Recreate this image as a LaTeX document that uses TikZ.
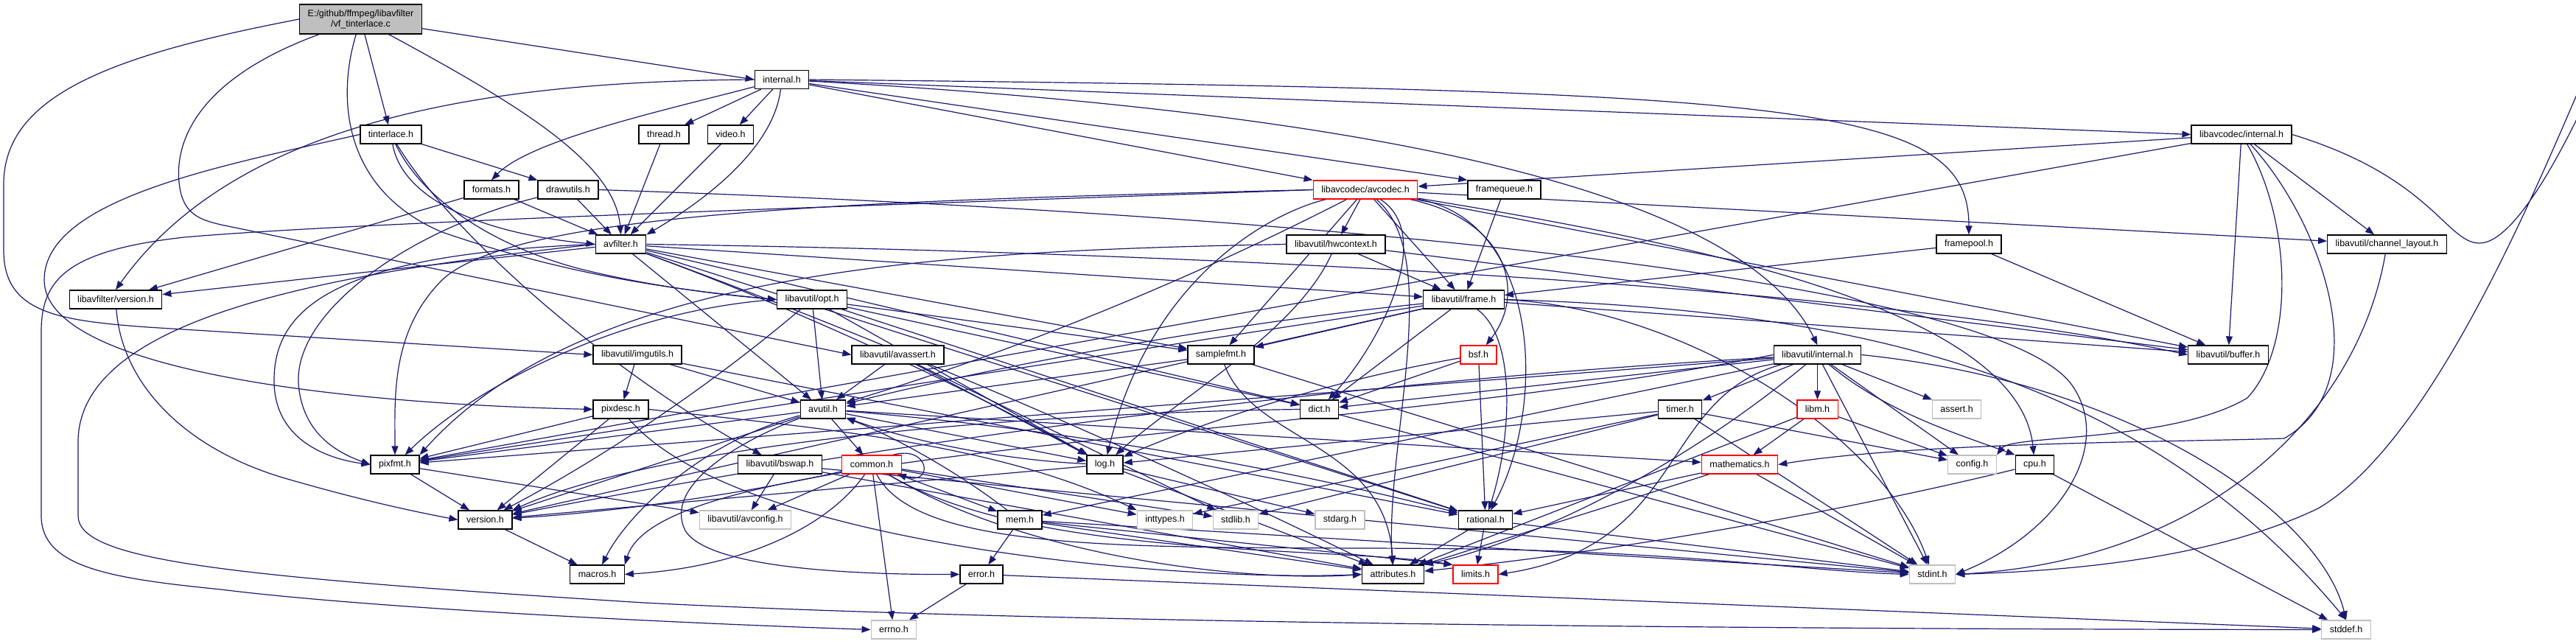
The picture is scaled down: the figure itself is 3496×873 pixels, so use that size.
\documentclass[tikz,border=0pt]{standalone}
\usepackage{fontspec}
\setmainfont{Liberation Sans}
\usetikzlibrary{arrows.meta}
\definecolor{edgeblue}{HTML}{191970}
\definecolor{sysgray}{HTML}{BFBFBF}
\pgfdeclarelayer{edges}
\pgfsetlayers{edges,main}
\tikzset{
  hdr/.style={draw=black, fill=white, line width=1.3pt, minimum height=25pt,
    inner xsep=11pt, inner ysep=0pt, font=\fontsize{12.5}{14}\selectfont},
  syshdr/.style={hdr, draw=sysgray},
  cuthdr/.style={hdr, draw=red},
  srcfile/.style={hdr, fill=sysgray, minimum height=40pt, align=center},
  dep/.style={draw=edgeblue, line width=1.2pt, -{Triangle[length=12pt,width=9pt]}}
}

\begin{document}
\begin{tikzpicture}[x=1pt,y=-1pt]
\useasboundingbox (0,0) rectangle (3496,873);

\node[srcfile] (root) at (489.5,26) {E:/github/ffmpeg/libavfilter\\/vf\_tinterlace.c};
\node[hdr] (lavfinternal) at (1061,108) {internal.h};
\node[hdr] (tinterlace) at (530.5,182.5) {tinterlace.h};
\node[hdr] (thread) at (901,182.5) {thread.h};
\node[hdr] (video) at (991.5,182.5) {video.h};
\node[hdr] (lavcinternal) at (3042,182.5) {libavcodec/internal.h};
\node[hdr] (formats) at (667,257.5) {formats.h};
\node[hdr] (drawutils) at (771,257.5) {drawutils.h};
\node[cuthdr] (avcodec) at (1853,257.5) {libavcodec/avcodec.h};
\node[hdr] (framequeue) at (2041.5,257.5) {framequeue.h};
\node[hdr] (avfilter) at (842.5,331.5) {avfilter.h};
\node[hdr] (hwcontext) at (1813,331.5) {libavutil/hwcontext.h};
\node[hdr] (framepool) at (2672,331.5) {framepool.h};
\node[hdr] (chlayout) at (3239.5,331.5) {libavutil/channel\_layout.h};
\node[hdr] (lavfversion) at (157,406.5) {libavfilter/version.h};
\node[hdr] (opt) at (1102,406.5) {libavutil/opt.h};
\node[hdr] (frame) at (1986.5,406.5) {libavutil/frame.h};
\node[hdr] (imgutils) at (865,481.5) {libavutil/imgutils.h};
\node[hdr] (avassert) at (1218.5,481.5) {libavutil/avassert.h};
\node[hdr] (samplefmt) at (1657,481.5) {samplefmt.h};
\node[cuthdr] (bsf) at (2006.5,481.5) {bsf.h};
\node[hdr] (lavuinternal) at (2466.5,481.5) {libavutil/internal.h};
\node[hdr] (buffer) at (3024,481.5) {libavutil/buffer.h};
\node[hdr] (pixdesc) at (842.5,555.5) {pixdesc.h};
\node[hdr] (avutil) at (1117,555.5) {avutil.h};
\node[hdr] (dict) at (1790.5,555.5) {dict.h};
\node[hdr] (timer) at (2280,555.5) {timer.h};
\node[cuthdr] (libm) at (2466.5,555.5) {libm.h};
\node[syshdr] (assertH) at (2655.5,555.5) {assert.h};
\node[hdr] (pixfmt) at (536,630.5) {pixfmt.h};
\node[hdr] (bswap) at (1058.5,630.5) {libavutil/bswap.h};
\node[cuthdr] (common) at (1183,630.5) {common.h};
\node[hdr] (log) at (1499.5,630.5) {log.h};
\node[cuthdr] (mathematics) at (2361,630.5) {mathematics.h};
\node[syshdr] (config) at (2676.5,630.5) {config.h};
\node[hdr] (cpu) at (2761.5,630.5) {cpu.h};
\node[hdr] (version) at (658.5,705.5) {version.h};
\node[syshdr] (avconfig) at (1011.5,705.5) {libavutil/avconfig.h};
\node[hdr] (mem) at (1384,705.5) {mem.h};
\node[syshdr] (inttypes) at (1581,705.5) {inttypes.h};
\node[syshdr] (stdlib) at (1677,705.5) {stdlib.h};
\node[syshdr] (stdarg) at (1818.5,705.5) {stdarg.h};
\node[hdr] (rational) at (2016,705.5) {rational.h};
\node[hdr] (macros) at (810.5,779.5) {macros.h};
\node[hdr] (error) at (1332,779.5) {error.h};
\node[hdr] (attributes) at (1890.5,779.5) {attributes.h};
\node[cuthdr] (limits) at (2002.5,779.5) {limits.h};
\node[syshdr] (stdint) at (2622.5,779.5) {stdint.h};
\node[syshdr] (errno) at (1213,854.5) {errno.h};
\node[syshdr] (stddef) at (3184,854.5) {stddef.h};

\begin{pgfonlayer}{edges}
% vf_tinterlace.c
\draw[dep] (root.west) .. controls (150,75) and (5,130) .. (5,250) -- (5,340) .. controls (5,425) and (80,435) .. (200,444) -- (imgutils.west);
\draw[dep] (root) .. controls (260,110) and (235,200) .. (244,255) .. controls (250,290) and (270,298) .. (300,305) -- (avassert.west);
\draw[dep] (root) .. controls (455,140) and (470,260) .. (600,315) .. controls (760,370) and (900,392) .. (opt.west);
\draw[dep] (root) -- (tinterlace);
\draw[dep] (root) .. controls (700,140) and (835,220) .. (avfilter.north);
\draw[dep] (root) -- (lavfinternal.west);
% tinterlace.h
\draw[dep] (tinterlace.west) .. controls (300,225) and (60,270) .. (60,380) .. controls (60,500) and (450,548) .. (pixdesc.west);
\draw[dep] (tinterlace) -- (drawutils);
\draw[dep] (tinterlace) .. controls (545,265) and (640,315) .. (avfilter.west);
\draw[dep] (tinterlace) .. controls (580,285) and (700,345) .. (800,368) .. controls (900,392) and (1000,402) .. (opt.west);
\draw[dep] (tinterlace) .. controls (620,330) and (850,520) .. (bswap);
% internal.h
\draw[dep] (lavfinternal.west) .. controls (700,110) and (330,150) .. (lavfversion.north);
\draw[dep] (lavfinternal) .. controls (900,150) and (720,190) .. (formats.north);
\draw[dep] (lavfinternal) -- (thread);
\draw[dep] (lavfinternal) -- (video);
\draw[dep] (lavfinternal) .. controls (1050,200) and (960,270) .. (avfilter.north east);
\draw[dep] (lavfinternal) -- (lavcinternal.west);
\draw[dep] (lavfinternal.east) .. controls (2450,122) and (2672,140) .. (framepool.north);
\draw[dep] (lavfinternal) -- (framequeue.north west);
\draw[dep] (lavfinternal) -- (avcodec.north west);
\draw[dep] (lavfinternal) .. controls (2000,160) and (2380,290) .. (lavuinternal.north);
% thread.h, video.h, formats.h, drawutils.h
\draw[dep] (thread) -- (avfilter);
\draw[dep] (video) -- (avfilter);
\draw[dep] (formats) -- (lavfversion);
\draw[dep] (formats) -- (avfilter);
\draw[dep] (drawutils) -- (avfilter);
\draw[dep] (drawutils) .. controls (560,310) and (400,420) .. (405,520) .. controls (410,590) and (460,615) .. (pixfmt.west);
\draw[dep] (drawutils.east) .. controls (1800,290) and (2700,380) .. (2810,520) .. controls (2870,600) and (2800,720) .. (stdint.east);
% avfilter.h
\draw[dep] (avfilter) -- (lavfversion);
\draw[dep] (avfilter.west) .. controls (450,345) and (370,420) .. (372,520) .. controls (374,595) and (440,622) .. (pixfmt.west);
\draw[dep] (avfilter) -- (avutil);
\draw[dep] (avfilter) -- (frame);
\draw[dep] (avfilter.east) .. controls (1500,340) and (2500,380) .. (buffer.west);
\draw[dep] (avfilter) -- (dict);
\draw[dep] (avfilter) .. controls (1070,415) and (1290,515) .. (log);
\draw[dep] (avfilter) -- (samplefmt);
\draw[dep] (avfilter) -- (rational);
\draw[dep] (avfilter) .. controls (1199,462) and (1549,612) .. (attributes);
\draw[dep] (avfilter.west) .. controls (450,370) and (106,430) .. (106,600) -- (106,700) .. controls (106,760) and (300,782) .. (874,818) .. controls (1500,850) and (2600,854) .. (stddef.west);
% libavfilter/version.h
\draw[dep] (lavfversion) .. controls (165,520) and (250,610) .. (390,650) .. controls (480,676) and (550,692) .. (version.west);
% opt.h
\draw[dep] (opt) -- (avutil);
\draw[dep] (opt) -- (rational);
\draw[dep] (opt) -- (dict);
\draw[dep] (opt) -- (log);
\draw[dep] (opt.west) .. controls (850,420) and (650,520) .. (pixfmt);
\draw[dep] (opt) -- (samplefmt);
\draw[dep] (opt) .. controls (965,523) and (817,622) .. (version);
% imgutils.h, avassert.h, pixdesc.h, bswap.h
\draw[dep] (imgutils) -- (avutil);
\draw[dep] (imgutils) -- (pixdesc);
\draw[dep] (imgutils) -- (rational);
\draw[dep] (avassert) -- (avutil);
\draw[dep] (avassert) -- (log);
\draw[dep] (avassert) -- (stdlib);
\draw[dep] (pixdesc) -- (pixfmt);
\draw[dep] (pixdesc) -- (version);
\draw[dep] (pixdesc.east) .. controls (1100,580) and (1350,600) .. (inttypes.north west);
\draw[dep] (pixdesc) .. controls (1000,740) and (1600,790) .. (attributes.west);
\draw[dep] (bswap) -- (avconfig);
\draw[dep] (bswap) -- (attributes);
\draw[dep] (bswap) -- (stdint);
% libavcodec/avcodec.h
\draw[dep] (avcodec) -- (hwcontext);
\draw[dep] (avcodec) -- (frame);
\draw[dep] (avcodec) -- (samplefmt);
\draw[dep] (avcodec) .. controls (1950,320) and (1870,470) .. (dict);
\draw[dep] (avcodec) .. controls (1720,290) and (1560,380) .. (log);
\draw[dep] (avcodec) .. controls (1617,379) and (1371,479) .. (avutil);
\draw[dep] (avcodec) -- (buffer);
\draw[dep] (avcodec) -- (chlayout);
\draw[dep] (avcodec) .. controls (2300,330) and (2740,420) .. (cpu);
\draw[dep] (avcodec.west) .. controls (1200,272) and (700,285) .. (600,380) .. controls (530,450) and (536,540) .. (pixfmt.north);
\draw[dep] (avcodec) .. controls (2090,300) and (2100,550) .. (rational);
\draw[dep] (avcodec) .. controls (1960,350) and (1880,600) .. (attributes);
\draw[dep] (avcodec) .. controls (2050,300) and (2070,400) .. (bsf);
\draw[dep] (avcodec.west) .. controls (1300,275) and (500,300) .. (250,322) .. controls (90,340) and (56,380) .. (56,450) -- (56,700) .. controls (56,770) and (150,785) .. (300,800) .. controls (500,825) and (900,845) .. (errno.west);
% libavutil/hwcontext.h
\draw[dep] (hwcontext) -- (frame);
\draw[dep] (hwcontext) -- (buffer);
\draw[dep] (hwcontext) .. controls (1760,450) and (1600,540) .. (log);
\draw[dep] (hwcontext.west) .. controls (1300,340) and (800,360) .. (pixfmt.north east);
% libavutil/frame.h
\draw[dep] (frame) .. controls (1693,436) and (1404,485) .. (avutil);
\draw[dep] (frame) -- (buffer);
\draw[dep] (frame) -- (dict);
\draw[dep] (frame) .. controls (2060,460) and (2050,600) .. (rational);
\draw[dep] (frame) -- (samplefmt);
\draw[dep] (frame) -- (pixfmt);
\draw[dep] (frame) -- (version);
\draw[dep] (frame.east) .. controls (2300,420) and (2560,600) .. (stdint);
\draw[dep] (frame.east) .. controls (2500,420) and (2900,500) .. (stddef.north);
% framepool.h, framequeue.h, channel_layout.h
\draw[dep] (framepool) -- (buffer);
\draw[dep] (framepool) -- (frame);
\draw[dep] (framequeue) -- (frame);
\draw[dep] (chlayout) .. controls (3200,560) and (3000,760) .. (stdint.east);
% samplefmt.h, bsf.h
\draw[dep] (samplefmt) -- (avutil);
\draw[dep] (samplefmt) .. controls (1700,600) and (1880,600) .. (attributes.north);
\draw[dep] (samplefmt) -- (stdint);
\draw[dep] (bsf) -- (dict);
\draw[dep] (bsf) .. controls (1831,512) and (1662,561) .. (log);
\draw[dep] (bsf) -- (rational);
% libavutil/internal.h
\draw[dep] (lavuinternal) -- (libm);
\draw[dep] (lavuinternal) -- (timer);
\draw[dep] (lavuinternal) -- (assertH);
\draw[dep] (lavuinternal) -- (config);
\draw[dep] (lavuinternal) .. controls (2560,560) and (2660,590) .. (cpu.north west);
\draw[dep] (lavuinternal) -- (stdint);
\draw[dep] (lavuinternal.east) .. controls (2900,520) and (3150,700) .. (stddef.north);
\draw[dep] (lavuinternal) .. controls (2300,620) and (2100,730) .. (attributes.north east);
\draw[dep] (lavuinternal) .. controls (2250,540) and (2290,740) .. (limits.east);
\draw[dep] (lavuinternal) -- (dict);
\draw[dep] (lavuinternal.west) .. controls (1800,600) and (900,600) .. (macros.north east);
\draw[dep] (lavuinternal) -- (mem);
\draw[dep] (lavuinternal) -- (pixfmt);
\draw[dep] (lavuinternal) .. controls (1858,516) and (1256,590) .. (version);
% dict.h
\draw[dep] (dict.west) .. controls (1400,560) and (900,600) .. (version.north east);
\draw[dep] (dict) -- (stdint);
% avutil.h
\draw[dep] (avutil) -- (common);
\draw[dep] (avutil) .. controls (1000,600) and (900,660) .. (930,720) .. controls (960,770) and (1150,780) .. (error.west);
\draw[dep] (avutil) .. controls (1421,580) and (1720,630) .. (rational);
\draw[dep] (avutil) -- (version);
\draw[dep] (avutil) .. controls (950,600) and (850,700) .. (macros);
\draw[dep] (avutil) -- (mathematics);
\draw[dep] (avutil) -- (log);
\draw[dep] (avutil) -- (pixfmt);
% log.h
\draw[dep] (log) -- (stdarg);
\draw[dep] (log) .. controls (1368,625) and (1240,600) .. (avutil);
\draw[dep] (log) -- (attributes);
\draw[dep] (log) -- (version);
% timer.h, libm.h, mathematics.h
\draw[dep] (timer) -- (config);
\draw[dep] (timer) -- (stdlib);
\draw[dep] (timer) -- (stdint);
\draw[dep] (timer) -- (inttypes);
\draw[dep] (timer) -- (log);
\draw[dep] (libm) -- (config);
\draw[dep] (libm) -- (mathematics);
\draw[dep] (libm) -- (attributes);
\draw[dep] (mathematics) -- (rational);
\draw[dep] (mathematics) -- (attributes);
\draw[dep] (mathematics) -- (stdint);
% pixfmt.h
\draw[dep] (pixfmt) -- (version);
\draw[dep] (pixfmt) -- (avconfig);
% common.h
\draw[dep] (common) -- (errno);
\draw[dep] (common) -- (inttypes);
\draw[dep] (common) -- (stdlib);
\draw[dep] (common) -- (mem);
\draw[dep] (common) -- (avconfig);
\draw[dep] (common) .. controls (1120,720) and (1000,770) .. (macros.east);
\draw[dep] (common) .. controls (1010,670) and (835,695) .. (version);
\draw[dep] (common) .. controls (1400,760) and (1700,790) .. (attributes.west);
\draw[dep] (common) .. controls (1400,760) and (1800,740) .. (limits.north west);
\draw[dep] (common) .. controls (1250,760) and (1600,740) .. (2000,745) .. controls (2300,750) and (2450,775) .. (stdint.west);
\draw[dep] ([xshift=-12pt]common.north east) .. controls +(50,-14) and +(50,16) .. ([xshift=-6pt]common.south east);
% mem.h, error.h, rational.h
\draw[dep] (mem) -- (error);
\draw[dep] (mem) .. controls (1302,642) and (1213,592) .. (avutil);
\draw[dep] (mem) -- (attributes);
\draw[dep] (mem) -- (limits.north west);
\draw[dep] (mem) -- (stdint);
\draw[dep] (error) -- (errno);
\draw[dep] (error) -- (stddef);
\draw[dep] (rational) -- (attributes);
\draw[dep] (rational) -- (limits);
\draw[dep] (rational) -- (stdint);
% cpu.h, version.h
\draw[dep] (cpu) .. controls (2474,700) and (2183,749) .. (attributes);
\draw[dep] (cpu) -- (stddef);
\draw[dep] (version) -- (macros);
% libavcodec/internal.h
\draw[dep] (lavcinternal) -- (avcodec);
\draw[dep] (lavcinternal) -- (pixfmt);
\draw[dep] (lavcinternal) -- (buffer);
\draw[dep] (lavcinternal) -- (chlayout);
\draw[dep] (lavcinternal) .. controls (3150,300) and (3230,520) .. (3100,595) .. controls (2950,600) and (2600,600) .. (mathematics.east);
\draw[dep] (lavcinternal) .. controls (3110,300) and (3115,470) .. (3050,540) .. controls (2950,600) and (2730,590) .. (config.north east);
\draw[dep] (lavcinternal.east) .. controls (3300,240) and (3320,330) .. (3365,330) .. controls (3420,330) and (3500,160) .. (3530,90) .. controls (3540,70) and (3525,70) .. (3505,110) .. controls (3440,260) and (3300,600) .. (3146,690) .. controls (3000,760) and (2800,775) .. (stdint.east);
\end{pgfonlayer}
\end{tikzpicture}
\end{document}
